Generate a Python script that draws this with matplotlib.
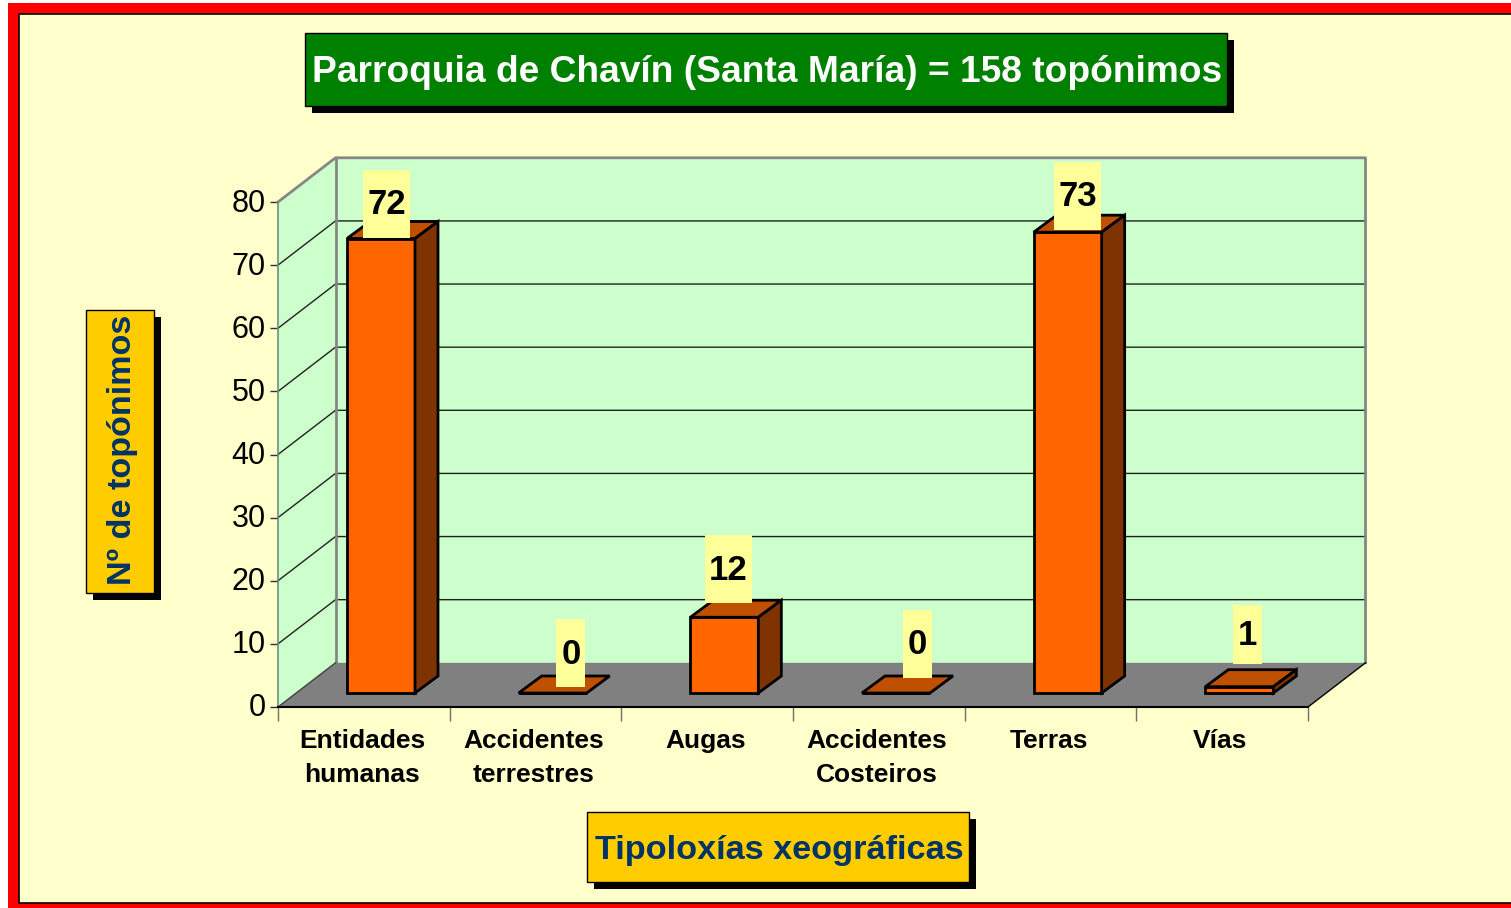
import matplotlib
matplotlib.use('Agg')
import matplotlib.pyplot as plt
from matplotlib.patches import Rectangle, Polygon
from matplotlib.transforms import ScaledTranslation

plt.rcParams['font.family'] = ['Liberation Sans', 'DejaVu Sans']

# Data
categories = ['Entidades\nhumanas', 'Accidentes\nterrestres', 'Augas',
              'Accidentes\nCosteiros', 'Terras', 'Vías']
values = [72, 0, 12, 0, 73, 1]
y_ticks = [0, 10, 20, 30, 40, 50, 60, 70, 80]

title = 'Parroquia de Chavín (Santa María) = 158 topónimos'
y_title = 'Nº de topónimos'
x_title = 'Tipoloxías xeográficas'

# Colours
RED = '#FF0000'
PAPER = '#FFFFCC'
WALL = '#CCFFCC'
FLOOR = '#808080'
FRONT = '#FF6600'
TOP = '#BF5000'
SIDE = '#7F3300'
NOTE = '#FFFF99'
GOLD = '#FFCC00'
NAVY = '#003366'
GREEN = '#008000'

W, H = 1511, 908
fig = plt.figure(figsize=(W / 100, H / 100), dpi=100, facecolor='white')

# Layer in image pixels for the frame and the title boxes
page = fig.add_axes([0, 0, 1, 1], zorder=0)
page.set_xlim(0, W)
page.set_ylim(H, 0)
page.axis('off')
page.add_patch(Rectangle((8, 3), W - 8, H - 3, fc=RED, ec='none'))
page.add_patch(Rectangle((19, 14), W - 19 + 5, 889, fc=PAPER, ec='black', lw=1.2))


def box(x0, y0, x1, y1, color):
    # box with a hard black shadow
    page.add_patch(Rectangle((x0 + 7, y0 + 7), x1 - x0, y1 - y0, fc='black', ec='none'))
    page.add_patch(Rectangle((x0, y0), x1 - x0, y1 - y0, fc=color, ec='black', lw=1))


box(305, 33, 1227, 106, GREEN)
page.text(767.5, 72, title, color='white', fontsize=26.7, fontweight='bold',
          ha='center', va='center')
box(86, 310, 154, 593, GOLD)
page.text(122, 450, y_title, color=NAVY, fontsize=24.6, fontweight='bold',
          rotation=90, ha='center', va='center')
box(587, 812, 969, 882, GOLD)
page.text(779, 851, x_title, color=NAVY, fontsize=24.7, fontweight='bold',
          ha='center', va='center')

# Chart: the axes is the front plane of the 3D box
ax = fig.add_axes([278 / W, 1 - 707 / H, 1030 / W, 505 / H], zorder=1)
ax.patch.set_alpha(0)
ax.set_xlim(0, len(categories))
ax.set_ylim(0, 80)

px_x = len(categories) / 1030
px_y = 80 / 505
depth_x = 57.5 * px_x
depth_y = 44.2 * px_y
n = len(categories)

# Walls and floor
ax.add_patch(Polygon([(0, 0), (depth_x, depth_y), (depth_x, 80 + depth_y), (0, 80)],
                     fc=WALL, ec='none', clip_on=False, zorder=1))
ax.add_patch(Rectangle((depth_x, depth_y), n, 80, fc=WALL, ec='none', clip_on=False, zorder=1))
ax.add_patch(Polygon([(0, 0), (depth_x, depth_y), (n + depth_x, depth_y), (n, 0)],
                     fc=FLOOR, ec='none', clip_on=False, zorder=2))

for v in y_ticks[1:-1]:
    ax.plot([0, depth_x, n + depth_x], [v, v + depth_y, v + depth_y], color='#202020',
            lw=1, clip_on=False, zorder=1.5)

# Grey outline of the walls
ax.plot([0, depth_x, n + depth_x, n + depth_x], [80, 80 + depth_y, 80 + depth_y, depth_y],
        color='#868686', lw=2, clip_on=False, zorder=3, solid_capstyle='projecting')
ax.plot([depth_x, depth_x], [depth_y, 80 + depth_y], color='#868686', lw=2,
        clip_on=False, zorder=1.6)
ax.plot([0, 0], [0, 80], color='#6f8f7f', lw=1.2, clip_on=False, zorder=3)
ax.plot([n, n + depth_x], [0, depth_y], color='black', lw=1, clip_on=False, zorder=3)
ax.plot([0, depth_x], [0, depth_y], color='#404040', lw=1, clip_on=False, zorder=3)
ax.plot([0, n], [0, 0], color='black', lw=1.5, clip_on=False, zorder=3)

# Bars: front face, then top and side faces
bar_x = [i + 0.6 for i in range(n)]
bar_w = 68 * px_x
bar_base = 14 * px_y
bar_dx = 23 * px_x
bar_dy = 17 * px_y
ax.bar(bar_x, values, width=bar_w, bottom=bar_base, color=FRONT, edgecolor='black',
       linewidth=2, clip_on=False, zorder=4)
for x, v in zip(bar_x, values):
    left = x - bar_w / 2
    right = x + bar_w / 2
    base = bar_base
    top = base + v
    ax.add_patch(Polygon([(left, top), (left + bar_dx, top + bar_dy),
                          (right + bar_dx, top + bar_dy), (right, top)],
                         closed=True, fc=TOP, ec='black', lw=2, joinstyle='miter',
                         clip_on=False, zorder=4))
    if v > 0:
        ax.add_patch(Polygon([(right, base), (right + bar_dx, base + bar_dy),
                              (right + bar_dx, top + bar_dy), (right, top)],
                             closed=True, fc=SIDE, ec='black', lw=2, joinstyle='miter',
                             clip_on=False, zorder=4))

# Value labels on yellow notes, placed by hand in the original (offsets in pixels)
note_dx = [5.5, 18.3, 4.2, 21.5, 9.8, 8.2]
note_gap = [0.7, 6, 14, 15, 2.4, 22.7]
note_w = [47, 29, 47, 29, 47, 29]
note_h = [68, 68, 68, 68, 68, 59]
for i, v in enumerate(values):
    cx = bar_x[i] + note_dx[i] * px_x
    y0 = bar_base + v + note_gap[i] * px_y
    ax.add_patch(Rectangle((cx - note_w[i] / 2 * px_x, y0), note_w[i] * px_x, note_h[i] * px_y,
                           fc=NOTE, ec='none', clip_on=False, zorder=5))
    ax.text(cx, y0 + (note_h[i] / 2 - 1) * px_y, str(v), fontsize=25, fontweight='bold',
            ha='center', va='center', zorder=6, clip_on=False)

# Axes ticks and labels
for s in ax.spines.values():
    s.set_visible(False)
ax.set_yticks(y_ticks)
ax.tick_params(axis='y', length=6, width=1, color='#303030', labelsize=22, pad=3)
for label in ax.get_yticklabels():
    label.set_transform(label.get_transform() + ScaledTranslation(0, 2 / 100, fig.dpi_scale_trans))
ax.set_xticks(range(n + 1))
ax.set_xticklabels([])
ax.set_xticks([i + 0.49 for i in range(n)], minor=True)
ax.set_xticklabels(categories, minor=True, fontsize=19, fontweight='bold', linespacing=1.5)
ax.tick_params(axis='x', which='major', length=10, width=1, color='#707070')
ax.tick_params(axis='x', which='minor', length=0, pad=16)

fig.savefig('out.png', dpi=100)
